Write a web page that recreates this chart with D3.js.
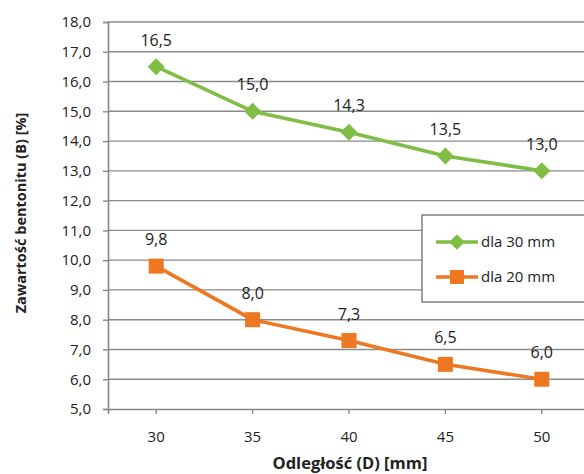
<!DOCTYPE html>
<html><head><meta charset="utf-8">
<script src="https://cdn.jsdelivr.net/npm/d3@7"></script>
<style>body{margin:0;background:#fff;} svg{display:block;}</style>
</head><body>
<svg id="c" width="584" height="474"></svg>
<script>
const categories = [30, 35, 40, 45, 50];
const series30 = [16.5, 15.0, 14.3, 13.5, 13.0];
const series20 = [9.8, 8.0, 7.3, 6.5, 6.0];
const yTicks = [5,6,7,8,9,10,11,12,13,14,15,16,17,18];
const seriesNames = ["dla 30 mm", "dla 20 mm"];

(function () {
const svg = d3.select("#c");
const mLeft = 108, mTop = 22, mBottom = 409, mRight = 590;
const fmt = v => v.toFixed(1).replace(".", ",");
const font = "'Open Sans', sans-serif";

const x = d3.scaleBand().domain(categories).range([mLeft, mRight]);
const y = d3.scaleLinear().domain([5, 18]).range([mBottom, mTop]);

// gridlines
svg.append("g").selectAll("line").data(yTicks.slice(1)).join("line")
  .attr("x1", mLeft).attr("x2", 584).attr("y1", d => y(d)).attr("y2", d => y(d))
  .attr("stroke", "#8a8a8a").attr("stroke-width", 1.4);

// y axis
const ya = svg.append("g").attr("transform", `translate(${mLeft},0)`)
  .call(d3.axisLeft(y).tickValues(yTicks).tickFormat(fmt).tickSize(5).tickPadding(12));
ya.select(".domain").attr("stroke", "#888").attr("stroke-width", 1.6);
ya.selectAll(".tick line").attr("stroke", "#888").attr("stroke-width", 1.4);
ya.selectAll("text").attr("font-family", font).attr("font-size", 15).attr("fill", "#222");

// x axis
const xa = svg.append("g").attr("transform", `translate(0,${mBottom})`)
  .call(d3.axisBottom(x).tickSize(5).tickPadding(17));
xa.select(".domain").attr("stroke", "#888").attr("stroke-width", 1.6);
xa.selectAll(".tick line").attr("stroke", "#888").attr("stroke-width", 1.4);
xa.selectAll("text").attr("font-family", font).attr("font-size", 15).attr("fill", "#222");

const cx = d => x(d) + x.bandwidth() / 2;
const green = "#80bd45", orange = "#ee7722";

function marker(sel, isDiamond, s) {
  sel.append("rect").attr("x", -s / 2).attr("y", -s / 2).attr("width", s).attr("height", s)
    .attr("transform", isDiamond ? "rotate(45)" : null);
}

function drawSeries(vals, color, isDiamond) {
  const pts = categories.map((c, i) => [cx(c), y(vals[i]), vals[i]]);
  svg.append("path").datum(pts)
    .attr("d", d3.line().x(d => d[0]).y(d => d[1]))
    .attr("fill", "none").attr("stroke", color).attr("stroke-width", 3.6);
  svg.append("g").attr("fill", color).selectAll("g").data(pts).join("g")
    .attr("transform", d => `translate(${d[0]},${d[1]})`)
    .each(function () { marker(d3.select(this), isDiamond, isDiamond ? 12 : 15); });
  svg.append("g").selectAll("text").data(pts).join("text")
    .attr("x", d => d[0]).attr("y", d => d[1] - 21)
    .attr("text-anchor", "middle").attr("font-family", font).attr("font-size", 16)
    .attr("fill", "#222").text(d => fmt(d[2]));
}
drawSeries(series30, green, true);
drawSeries(series20, orange, false);

// legend
const lg = svg.append("g");
lg.append("rect").attr("x", 422).attr("y", 215).attr("width", 170).attr("height", 87)
  .attr("fill", "#fff").attr("stroke", "#777").attr("stroke-width", 1.4);
const lcol = [green, orange];
seriesNames.forEach((n, i) => {
  const ly = 242 + i * 35;
  lg.append("line").attr("x1", 436).attr("x2", 478).attr("y1", ly).attr("y2", ly)
    .attr("stroke", lcol[i]).attr("stroke-width", 3.6);
  const g = lg.append("g").attr("fill", lcol[i]).attr("transform", `translate(457,${ly})`);
  marker(g, i === 0, i === 0 ? 11 : 14);
  lg.append("text").attr("x", 481).attr("y", ly + 5).attr("font-family", font)
    .attr("font-size", 15).attr("fill", "#222").text(n);
});

// axis titles
svg.append("text").attr("transform", "translate(26,213) rotate(-90)")
  .attr("text-anchor", "middle").attr("font-family", font).attr("font-weight", "bold")
  .attr("font-size", 14.5).attr("fill", "#222").text("Zawartość bentonitu (B) [%]");
svg.append("text").attr("x", 350).attr("y", 469)
  .attr("text-anchor", "middle").attr("font-family", font).attr("font-weight", "bold")
  .attr("font-size", 16.5).attr("fill", "#222").text("Odległość (D) [mm]");
})();
</script>
</body></html>
